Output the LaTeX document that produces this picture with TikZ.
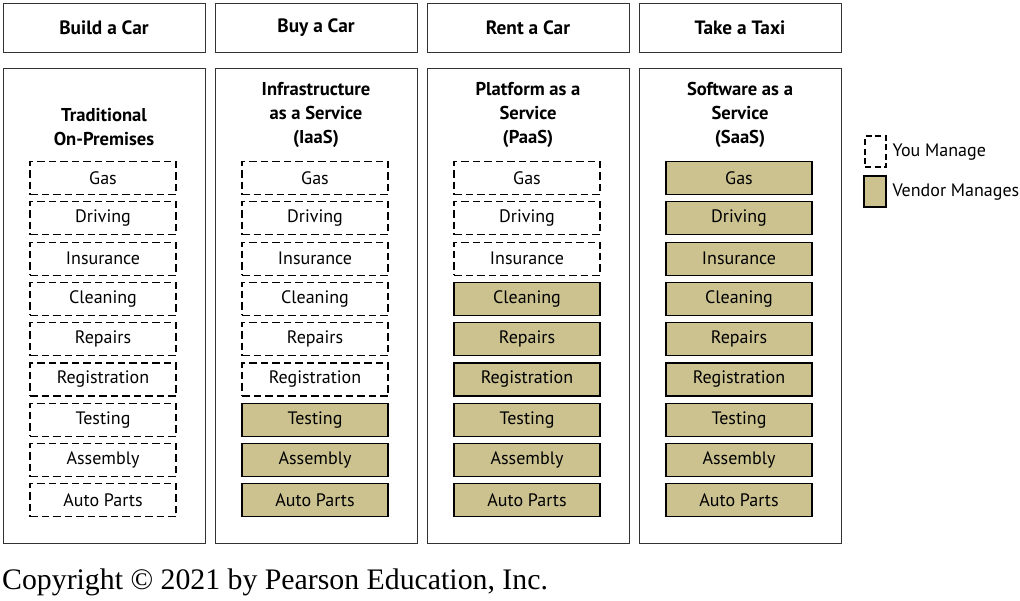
\documentclass[tikz,border=0pt]{standalone}
\usepackage{fontspec}
\setmainfont{PT Sans}
\newfontfamily\cpyfont{Liberation Serif}
\definecolor{vendor}{RGB}{203,194,143}
\begin{document}
\begin{tikzpicture}[x=1pt,y=-1pt,
  frame/.style={draw=black!80,line width=0.9pt},
  hdr/.style={font=\fontsize{19.3}{21}\selectfont\bfseries},
  ttl/.style={font=\fontsize{18.6}{24}\selectfont\bfseries,align=center},
  item/.style={minimum width=146pt,minimum height=33pt,inner sep=0pt,font=\fontsize{18}{20}\selectfont},
  you/.style={item,draw=black,line width=1.1pt,dash pattern=on 7.5pt off 4pt},
  ven/.style={item,draw=black,line width=1.1pt,fill=vendor},
  lg/.style={font=\fontsize{18}{20}\selectfont,anchor=west}]
\useasboundingbox (0,0) rectangle (1020,600);
% headers and panels
\foreach \n/\xa/\t in {1/3/Build a Car,2/215/Buy a Car,3/427/Rent a Car,4/639/Take a Taxi}{
  \draw[frame] (\xa,3) rectangle ++(202,49);
  \node[hdr] (h\n) at (\xa+101,27.5) {\t};
  \draw[frame] (\xa,68) rectangle ++(202,475);
}
\node[ttl] (t1) at (104,127) {Traditional\\On-Premises};
\node[ttl] (t2) at (316,115) {Infrastructure\\as a Service\\(IaaS)};
\node[ttl] (t3) at (528,115) {Platform as a\\Service\\(PaaS)};
\node[ttl] (t4) at (740,115) {Software as a\\Service\\(SaaS)};
% items
\foreach \i/\t in {0/Gas,1/Driving,2/Insurance,3/Cleaning,4/Repairs,5/Registration,6/Testing,7/Assembly,8/Auto Parts}{
  \pgfmathsetmacro{\yy}{178+40.3*\i}
  \node[you] (a\i) at (103,\yy) {\t};
  \ifnum\i<6 \node[you] (b\i) at (315,\yy) {\t}; \else \node[ven] (b\i) at (315,\yy) {\t}; \fi
  \ifnum\i<3 \node[you] (c\i) at (527,\yy) {\t}; \else \node[ven] (c\i) at (527,\yy) {\t}; \fi
  \node[ven] (d\i) at (739,\yy) {\t};
}
% legend
\node[draw=black,line width=1.1pt,dash pattern=on 6pt off 3.5pt,minimum width=21pt,minimum height=31pt,inner sep=0pt] (ly) at (875.5,151.5) {};
\node[lg] (lyt) at (889,152) {You Manage};
\node[draw=black,line width=1.1pt,fill=vendor,minimum width=22pt,minimum height=31pt,inner sep=0pt] (lv) at (875,191.5) {};
\node[lg] (lvt) at (889,192) {Vendor Manages};
% copyright
\node[font=\cpyfont\fontsize{29.8}{31}\selectfont,anchor=west,inner sep=0pt] (cp) at (2,582) {Copyright © 2021 by Pearson Education, Inc.};
\end{tikzpicture}
\end{document}
